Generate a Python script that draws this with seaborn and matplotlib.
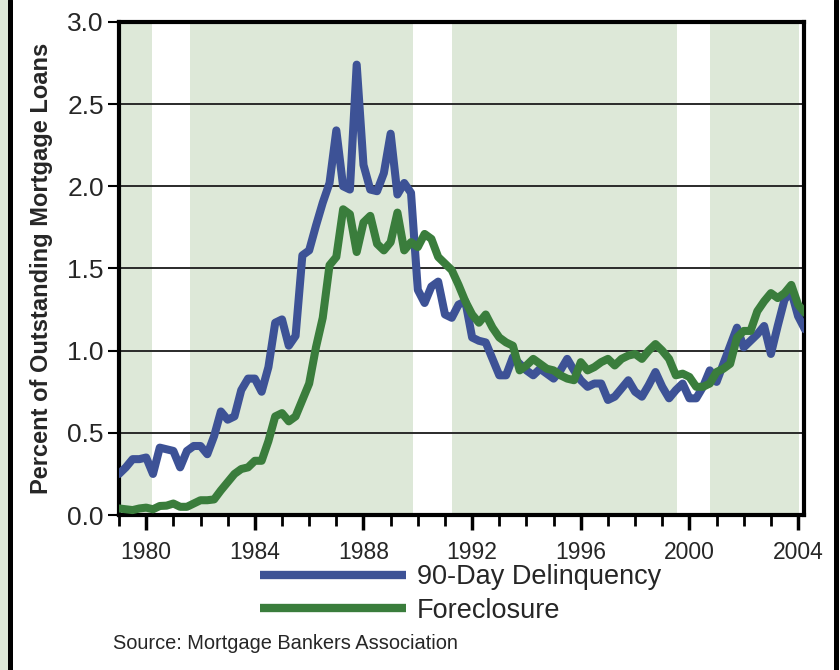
import numpy as np
import pandas as pd
import seaborn as sns
import matplotlib
matplotlib.use('Agg')
import matplotlib.pyplot as plt
from matplotlib.lines import Line2D
from matplotlib.patches import Rectangle

# quarterly data, 1979Q1 .. 2004Q2
quarters = np.arange(1979.0, 2004.26, 0.25)
delinquency = [
    0.25, 0.29, 0.34, 0.34,  0.35, 0.25, 0.41, 0.40,  0.39, 0.29, 0.39, 0.42,
    0.42, 0.37, 0.48, 0.63,  0.58, 0.60, 0.76, 0.83,  0.83, 0.75, 0.90, 1.17,
    1.19, 1.03, 1.09, 1.58,  1.61, 1.76, 1.90, 2.02,  2.34, 2.00, 1.98, 2.74,
    2.13, 1.98, 1.97, 2.08,  2.32, 1.95, 2.02, 1.96,  1.37, 1.29, 1.39, 1.42,
    1.22, 1.20, 1.28, 1.30,  1.08, 1.06, 1.05, 0.95,  0.85, 0.85, 0.96, 0.92,
    0.88, 0.85, 0.89, 0.86,  0.83, 0.88, 0.95, 0.88,  0.82, 0.78, 0.80, 0.80,
    0.70, 0.72, 0.77, 0.82,  0.75, 0.72, 0.79, 0.87,  0.78, 0.71, 0.76, 0.80,
    0.71, 0.71, 0.78, 0.88,  0.81, 0.92, 1.03, 1.14,  1.02, 1.06, 1.10, 1.15,
    0.98, 1.15, 1.31, 1.36,  1.21, 1.13,
]
foreclosure = [
    0.04, 0.035, 0.03, 0.04,  0.045, 0.035, 0.055, 0.057,  0.07, 0.05, 0.05, 0.07,
    0.09, 0.09, 0.095, 0.15,  0.20, 0.25, 0.28, 0.29,  0.33, 0.33, 0.45, 0.60,
    0.62, 0.57, 0.60, 0.70,  0.80, 1.02, 1.20, 1.52,  1.57, 1.86, 1.83, 1.60,
    1.78, 1.82, 1.65, 1.61,  1.66, 1.84, 1.61, 1.66,  1.63, 1.71, 1.68, 1.57,
    1.53, 1.49, 1.40, 1.30,  1.22, 1.17, 1.22, 1.14,  1.08, 1.05, 1.03, 0.88,
    0.91, 0.95, 0.92, 0.89,  0.88, 0.85, 0.83, 0.82,  0.93, 0.88, 0.90, 0.93,
    0.95, 0.91, 0.95, 0.97,  0.98, 0.95, 1.00, 1.04,  1.00, 0.95, 0.85, 0.86,
    0.84, 0.78, 0.78, 0.80,  0.87, 0.89, 0.92, 1.08,  1.12, 1.12, 1.24, 1.30,
    1.35, 1.32, 1.35, 1.40,  1.28, 1.23,
]
series_names = ['90-Day Delinquency', 'Foreclosure']
shaded_periods = [(1979.0, 1980.2), (1981.6, 1989.83), (1991.25, 1999.56), (2000.77, 2004.03)]
year_labels = [1980, 1984, 1988, 1992, 1996, 2000, 2004]

df = pd.concat([
    pd.DataFrame({'year': quarters, 'value': delinquency, 'series': series_names[0]}),
    pd.DataFrame({'year': quarters, 'value': foreclosure, 'series': series_names[1]}),
])

sns.set_style('white')
plt.rcParams['font.family'] = ['Liberation Sans', 'DejaVu Sans']

fig = plt.figure(figsize=(8.4, 6.7), dpi=100)
ax = fig.add_axes([0.1417, 0.2313, 0.8155, 0.736])

for a, b in shaded_periods:
    ax.axvspan(a, b, color='#dde8d8', lw=0, zorder=0)
for yv in [0.5, 1.0, 1.5, 2.0, 2.5]:
    ax.axhline(yv, color='#2a2a2a', lw=1.4, zorder=1)

palette = {series_names[0]: '#3d5296', series_names[1]: '#3a7d3c'}
sns.lineplot(data=df, x='year', y='value', hue='series', hue_order=series_names,
             palette=palette, linewidth=5.8, ax=ax, zorder=3, estimator=None)

ax.set_xlim(1979.0, 2004.22)
ax.set_ylim(0, 3.0)
ax.set_yticks(np.arange(0, 3.01, 0.5))
ax.set_yticklabels([f'{v:.1f}' for v in np.arange(0, 3.01, 0.5)], fontsize=19)
ax.set_xticks(year_labels)
ax.set_xticklabels([str(y) for y in year_labels], fontsize=16.5)
ax.set_xticks(np.arange(1979, 2005), minor=True)
ax.tick_params(axis='y', direction='out', length=8, width=1.5, color='black', pad=3, left=True)
ax.tick_params(axis='x', which='major', direction='out', length=11, width=2.5, color='black', pad=8, bottom=True)
ax.tick_params(axis='x', which='minor', direction='out', length=8, width=2, color='black', bottom=True)
for s in ax.spines.values():
    s.set_visible(True)
    s.set_color('black')
    s.set_linewidth(3)
ax.set_xlabel('')
ax.set_ylabel('Percent of Outstanding Mortgage Loans', fontsize=17, fontweight='bold')
ax.yaxis.set_label_coords(-0.097, 0.5)

handles = [Line2D([0], [0], color=palette[n], lw=6, solid_capstyle='butt') for n in series_names]
ax.get_legend().remove()
fig.legend(handles, series_names, loc='upper left', bbox_to_anchor=(0.309, 0.158),
           frameon=False, fontsize=19.5, handlelength=5.4, handletextpad=0.4,
           labelspacing=0.28, borderpad=0, borderaxespad=0)

fig.text(0.135, 0.032, 'Source: Mortgage Bankers Association', fontsize=14.4, ha='left', va='baseline')

# page frame on the sides
fig.patches.append(Rectangle((0, 0), 8 / 840, 1, transform=fig.transFigure, color='#dde8d8', zorder=0))
fig.add_artist(Line2D([9.5 / 840, 9.5 / 840], [0, 1], color='black', lw=3.6))
fig.add_artist(Line2D([835.5 / 840, 835.5 / 840], [0, 1], color='black', lw=3.6))

fig.savefig('out.png', dpi=100)
